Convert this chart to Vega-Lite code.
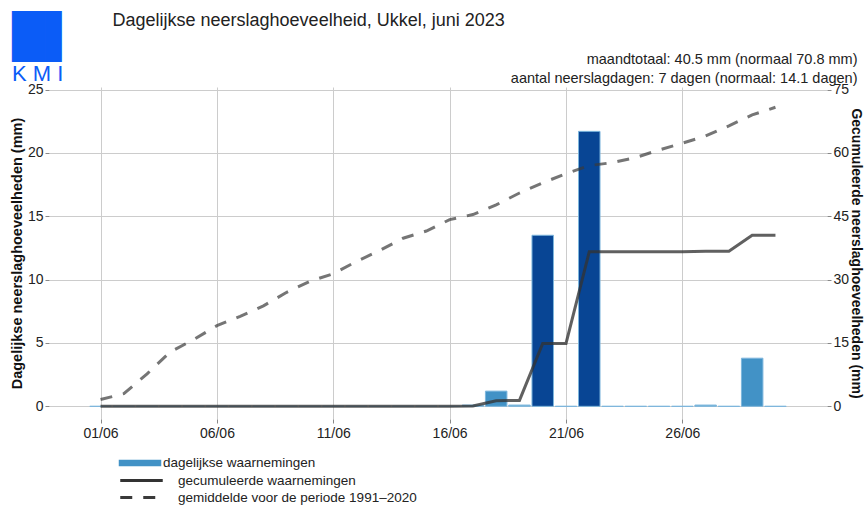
{
  "$schema": "https://vega.github.io/schema/vega-lite/v6.json",
  "width": 778,
  "height": 332,
  "autosize": {"type": "none"},
  "padding": {"left": 49, "top": 87, "right": 37, "bottom": 86},
  "background": "white",
  "config": {
    "view": {"stroke": null},
    "font": "Liberation Sans",
    "axis": {
      "labelFont": "Liberation Sans",
      "labelFontSize": 14,
      "labelColor": "#222222",
      "tickColor": "#888888",
      "tickSize": 4,
      "gridColor": "#cccccc",
      "gridWidth": 1,
      "domain": false,
      "titleFont": "Liberation Sans",
      "titleColor": "#111111"
    },
    "legend": {
      "title": null,
      "padding": 0,
      "rowPadding": 0,
      "symbolSize": 289,
      "labelFont": "Liberation Sans",
      "labelFontSize": 13.5,
      "labelColor": "#222222",
      "labelOffset": 26.5,
      "labelLimit": 0
    }
  },
  "title": {
    "text": "█▌",
    "subtitle": "K M I",
    "anchor": "start",
    "frame": "group",
    "dx": -37,
    "offset": -74,
    "font": "DejaVu Sans",
    "fontSize": 43,
    "fontWeight": "normal",
    "color": "#0b5cf7",
    "subtitleFont": "Liberation Sans",
    "subtitleFontSize": 22,
    "subtitleColor": "#0b5cf7",
    "subtitlePadding": 4
  },
  "data": {
    "values": [
      {"dag": 1, "neerslag": 0, "cumul": 0, "normaal": 1.6},
      {"dag": 2, "neerslag": 0, "cumul": 0, "normaal": 3.0},
      {"dag": 3, "neerslag": 0, "cumul": 0, "normaal": 7.7},
      {"dag": 4, "neerslag": 0, "cumul": 0, "normaal": 12.9},
      {"dag": 5, "neerslag": 0, "cumul": 0, "normaal": 15.8},
      {"dag": 6, "neerslag": 0, "cumul": 0, "normaal": 19.1},
      {"dag": 7, "neerslag": 0, "cumul": 0, "normaal": 21.3},
      {"dag": 8, "neerslag": 0, "cumul": 0, "normaal": 23.8},
      {"dag": 9, "neerslag": 0, "cumul": 0, "normaal": 27.0},
      {"dag": 10, "neerslag": 0, "cumul": 0, "normaal": 29.6},
      {"dag": 11, "neerslag": 0, "cumul": 0, "normaal": 31.4},
      {"dag": 12, "neerslag": 0, "cumul": 0, "normaal": 34.3},
      {"dag": 13, "neerslag": 0, "cumul": 0, "normaal": 36.9},
      {"dag": 14, "neerslag": 0, "cumul": 0, "normaal": 39.8},
      {"dag": 15, "neerslag": 0, "cumul": 0, "normaal": 41.5},
      {"dag": 16, "neerslag": 0, "cumul": 0, "normaal": 44.2},
      {"dag": 17, "neerslag": 0.1, "cumul": 0.1, "normaal": 45.4},
      {"dag": 18, "neerslag": 1.2, "cumul": 1.3, "normaal": 47.7},
      {"dag": 19, "neerslag": 0.1, "cumul": 1.4, "normaal": 50.5},
      {"dag": 20, "neerslag": 13.5, "cumul": 14.9, "normaal": 52.9},
      {"dag": 21, "neerslag": 0, "cumul": 14.9, "normaal": 55.1},
      {"dag": 22, "neerslag": 21.7, "cumul": 36.6, "normaal": 57.0},
      {"dag": 23, "neerslag": 0, "cumul": 36.6, "normaal": 57.7},
      {"dag": 24, "neerslag": 0, "cumul": 36.6, "normaal": 58.9},
      {"dag": 25, "neerslag": 0, "cumul": 36.6, "normaal": 60.7},
      {"dag": 26, "neerslag": 0, "cumul": 36.6, "normaal": 62.3},
      {"dag": 27, "neerslag": 0.1, "cumul": 36.7, "normaal": 64.0},
      {"dag": 28, "neerslag": 0, "cumul": 36.7, "normaal": 66.4},
      {"dag": 29, "neerslag": 3.8, "cumul": 40.5, "normaal": 69.0},
      {"dag": 30, "neerslag": 0, "cumul": 40.5, "normaal": 70.8}
    ]
  },
  "layer": [
    {
      "mark": {"type": "bar", "size": 21.5, "strokeWidth": 1},
      "encoding": {
        "x": {
          "field": "dag",
          "type": "quantitative",
          "scale": {"domain": [-1, 32], "nice": false, "zero": false},
          "axis": {
            "orient": "bottom",
            "values": [1, 6, 11, 16, 21, 26],
            "labelExpr": "(datum.value < 10 ? '0' : '') + datum.value + '/06'",
            "title": null,
            "grid": true,
            "ticks": true,
            "labelPadding": 3
          }
        },
        "y": {
          "field": "neerslag",
          "type": "quantitative",
          "stack": null,
          "scale": {"domain": [-1, 25.2], "nice": false, "zero": false},
          "axis": {
            "orient": "left",
            "values": [0, 5, 10, 15, 20, 25],
            "grid": true,
            "labelPadding": 2,
            "title": "Dagelijkse neerslaghoeveelheden (mm)",
            "titleFontSize": 14.5,
            "titleFontWeight": "bold",
            "titleX": -32,
            "titleBaseline": "middle"
          }
        },
        "color": {
          "field": "neerslag",
          "type": "quantitative",
          "scale": {"type": "threshold", "domain": [1, 10], "range": ["#6baed6", "#4292c6", "#084594"]},
          "legend": null
        },
        "stroke": {
          "datum": "dagelijkse waarnemingen",
          "type": "nominal",
          "scale": {"domain": ["dagelijkse waarnemingen"], "range": ["#7db6dd"]},
          "legend": {
            "orient": "none",
            "legendX": 82.5,
            "legendY": 367.5,
            "labelOffset": 14.5,
            "symbolType": "M-2.5,-0.38H2.5V0.38H-2.5Z",
            "symbolStrokeWidth": 0,
            "symbolFillColor": "#4292c6"
          }
        }
      }
    },
    {
      "mark": {"type": "line", "strokeWidth": 3, "strokeOpacity": 0.78},
      "encoding": {
        "x": {
          "field": "dag",
          "type": "quantitative",
          "scale": {"domain": [-1, 32], "nice": false, "zero": false},
          "axis": {
            "orient": "top",
            "labels": false,
            "ticks": false,
            "grid": false,
            "domain": false,
            "title": ["maandtotaal: 40.5 mm (normaal 70.8 mm)", "aantal neerslagdagen: 7 dagen (normaal: 14.1 dagen)"],
            "titleX": 808,
            "titleY": -35,
            "titleAlign": "right",
            "titleBaseline": "top",
            "titleLineHeight": 19,
            "titleFontSize": 14.5,
            "titleFontWeight": "normal",
            "titleColor": "#222222"
          }
        },
        "y": {
          "field": "cumul",
          "type": "quantitative",
          "scale": {"domain": [-3, 75.6], "nice": false, "zero": false},
          "axis": {
            "orient": "right",
            "values": [0, 15, 30, 45, 60, 75],
            "grid": false,
            "labelPadding": 2,
            "title": "Gecumuleerde neerslaghoeveelheden (mm)",
            "titleAngle": 90,
            "titleFontSize": 14,
            "titleFontWeight": "bold",
            "titleX": 28.5,
            "titleBaseline": "middle"
          }
        },
        "stroke": {
          "datum": "gecumuleerde waarnemingen",
          "type": "nominal",
          "scale": {"domain": ["gecumuleerde waarnemingen"], "range": ["#333333"]},
          "legend": {
            "orient": "none",
            "legendX": 82.5,
            "legendY": 383.5,
            "symbolType": "M-2.5,0H2.5",
            "symbolStrokeWidth": 3
          }
        }
      }
    },
    {
      "mark": {"type": "line", "strokeWidth": 3, "strokeOpacity": 0.7, "strokeDash": [12, 11]},
      "encoding": {
        "x": {
          "field": "dag",
          "type": "quantitative",
          "scale": {"domain": [-1, 32], "nice": false, "zero": false},
          "axis": {
            "orient": "top",
            "labels": false,
            "ticks": false,
            "grid": false,
            "domain": false,
            "title": "Dagelijkse neerslaghoeveelheid, Ukkel, juni 2023",
            "titleX": 63,
            "titleY": -67,
            "titleAlign": "left",
            "titleBaseline": "middle",
            "titleFontSize": 18,
            "titleFontWeight": "normal",
            "titleColor": "#222222"
          }
        },
        "y": {
          "field": "normaal",
          "type": "quantitative",
          "scale": {"domain": [-3, 75.6], "nice": false, "zero": false},
          "axis": null
        },
        "stroke": {
          "datum": "gemiddelde voor de periode 1991–2020",
          "type": "nominal",
          "scale": {"domain": ["gemiddelde voor de periode 1991–2020"], "range": ["#3a3a3a"]},
          "legend": {
            "orient": "none",
            "legendX": 82.5,
            "legendY": 400.5,
            "symbolType": "M-2.5,0H2.5",
            "symbolStrokeWidth": 3,
            "symbolDash": [12, 11]
          }
        }
      }
    }
  ],
  "resolve": {
    "scale": {"y": "independent", "stroke": "independent"},
    "axis": {"x": "independent", "y": "independent"}
  }
}
